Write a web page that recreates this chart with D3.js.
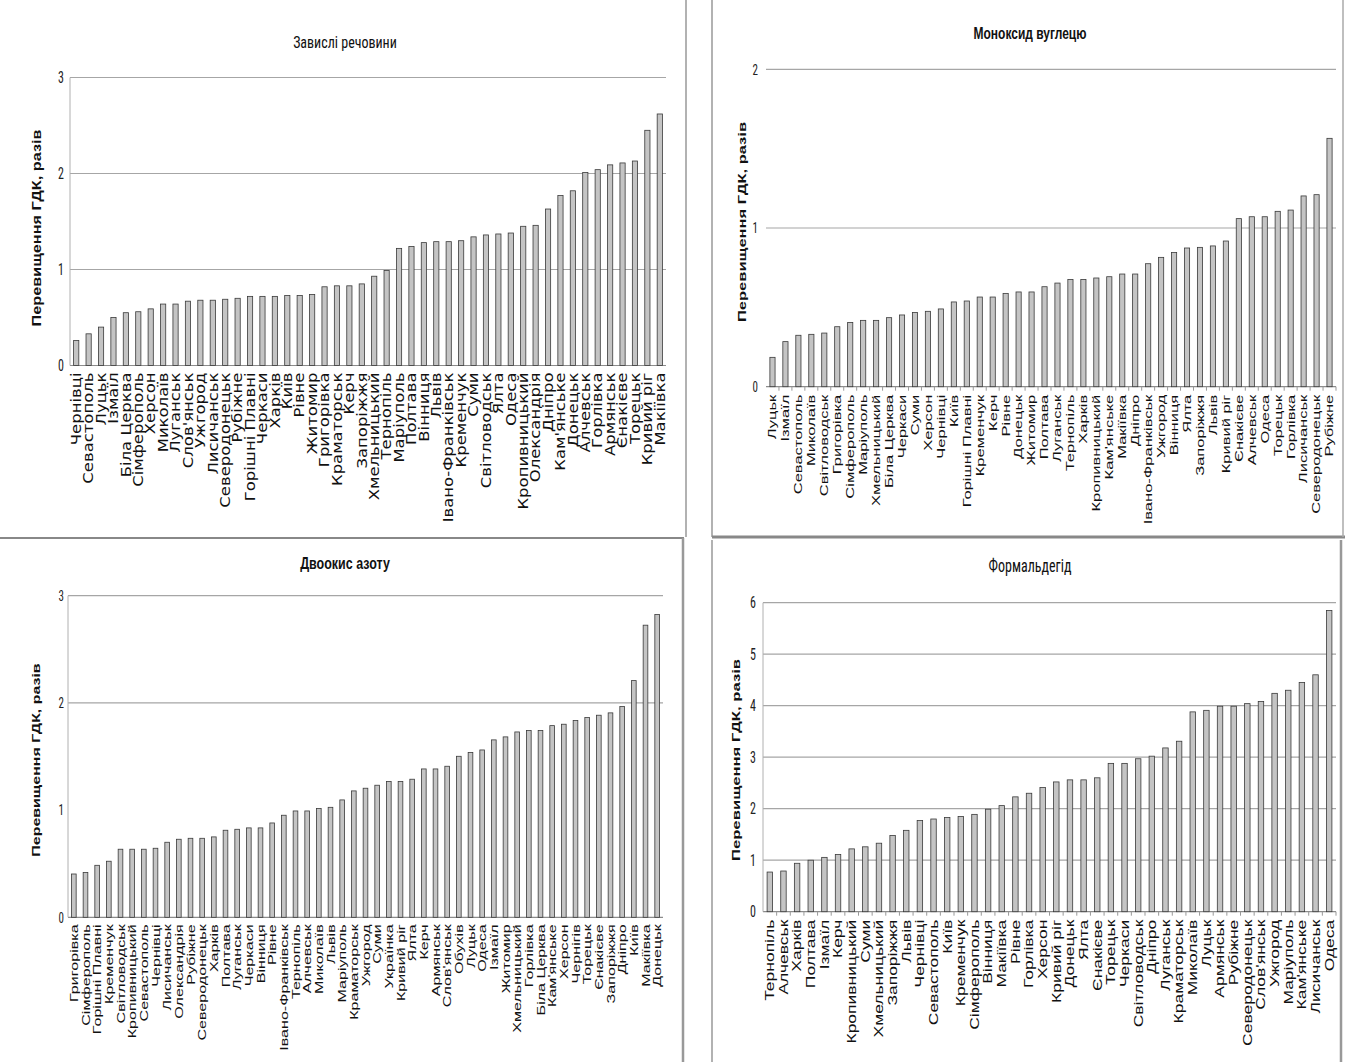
<!DOCTYPE html>
<html><head><meta charset="utf-8">
<script src="https://cdn.jsdelivr.net/npm/d3@7"></script>
<style>body{margin:0;background:#fff}svg{display:block}</style>
</head><body>
<svg id="c" width="1351" height="1062"></svg>
<script>
// ---- Data ----
const susCities = ["Чернівці","Севастополь","Луцьк","Ізмаїл","Біла Церква","Сімферополь","Херсон","Миколаїв","Луганськ","Слов'янськ","Ужгород","Лисичанськ","Северодонецьк","Рубіжне","Горішні Плавні","Черкаси","Харків","Київ","Рівне","Житомир","Григорівка","Краматорськ","Керч","Запоріжжя","Хмельницький","Тернопіль","Маріуполь","Полтава","Вінниця","Львів","Івано-Франківськ","Кременчук","Суми","Світловодськ","Ялта","Одеса","Кропивницький","Олександрія","Дніпро","Кам'янське","Донецьк","Алчевськ","Горлівка","Армянськ","Єнакієве","Торецьк","Кривий ріг","Макіївка"];
const susValues = [0.26,0.33,0.40,0.50,0.55,0.56,0.59,0.64,0.64,0.67,0.68,0.68,0.69,0.70,0.72,0.72,0.72,0.73,0.73,0.74,0.82,0.83,0.83,0.85,0.93,0.99,1.22,1.24,1.28,1.29,1.29,1.30,1.34,1.36,1.37,1.38,1.45,1.46,1.63,1.77,1.82,2.01,2.04,2.09,2.11,2.13,2.45,2.62];

const coCities = ["Луцьк","Ізмаїл","Севастополь","Миколаїв","Світловодськ","Григорівка","Сімферополь","Маріуполь","Хмельницький","Біла Церква","Черкаси","Суми","Херсон","Чернівці","Київ","Горішні Плавні","Кременчук","Керч","Рівне","Донецьк","Житомир","Полтава","Луганськ","Тернопіль","Харків","Кропивницький","Кам'янське","Макіївка","Дніпро","Івано-Франківськ","Ужгород","Вінниця","Ялта","Запоріжжя","Львів","Кривий ріг","Єнакієве","Алчевськ","Одеса","Торецьк","Горлівка","Лисичанськ","Северодонецьк","Рубіжне"];
const coValues = [0.185,0.284,0.324,0.33,0.338,0.378,0.405,0.418,0.418,0.435,0.452,0.468,0.475,0.49,0.534,0.54,0.565,0.565,0.588,0.597,0.597,0.63,0.653,0.676,0.676,0.685,0.693,0.71,0.71,0.775,0.815,0.845,0.874,0.878,0.887,0.918,1.059,1.071,1.071,1.105,1.113,1.202,1.21,1.565];

const no2Cities = ["Григорівка","Сімферополь","Горішні Плавні","Кременчук","Світловодськ","Кропивницький","Севастополь","Чернівці","Лисичанськ","Олександрія","Рубіжне","Северодонецьк","Харків","Полтава","Луганськ","Черкаси","Вінниця","Рівне","Івано-Франківськ","Тернопіль","Алчевськ","Миколаїв","Львів","Маріуполь","Краматорськ","Ужгород","Суми","Українка","Кривий ріг","Ялта","Керч","Армянськ","Слов'янськ","Обухів","Луцьк","Одеса","Ізмаїл","Житомир","Хмельницький","Горлівка","Біла Церква","Кам'янське","Херсон","Чернігів","Торецьк","Єнакієве","Запоріжжя","Дніпро","Київ","Макіївка","Донецьк"];
const no2Values = [0.404,0.417,0.485,0.523,0.635,0.635,0.635,0.644,0.70,0.728,0.737,0.737,0.75,0.812,0.821,0.834,0.834,0.88,0.952,0.992,0.992,1.014,1.026,1.095,1.179,1.204,1.232,1.266,1.266,1.288,1.384,1.384,1.409,1.502,1.537,1.561,1.655,1.683,1.729,1.742,1.742,1.788,1.801,1.835,1.863,1.885,1.907,1.966,2.208,2.725,2.824];

const hchoCities = ["Тернопіль","Алчевськ","Харків","Полтава","Ізмаїл","Керч","Кропивницький","Суми","Хмельницький","Запоріжжя","Львів","Чернівці","Севастополь","Київ","Кременчук","Сімферополь","Вінниця","Макіївка","Рівне","Горлівка","Херсон","Кривий ріг","Донецьк","Ялта","Єнакієве","Торецьк","Черкаси","Світловодськ","Дніпро","Луганськ","Краматорськ","Миколаїв","Луцьк","Армянськ","Рубіжне","Северодонецьк","Слов'янськ","Ужгород","Маріуполь","Кам'янське","Лисичанськ","Одеса"];
const hchoValues = [0.77,0.79,0.94,1.00,1.055,1.11,1.22,1.26,1.33,1.48,1.58,1.77,1.80,1.83,1.85,1.89,1.99,2.06,2.23,2.30,2.41,2.52,2.56,2.56,2.60,2.88,2.88,2.97,3.02,3.18,3.31,3.88,3.91,3.99,3.99,4.04,4.08,4.24,4.30,4.45,4.60,5.85];

const titles = ["Завислі речовини","Моноксид вуглецю","Двоокис азоту","Формальдегід"];
const yTitle = "Перевищення ГДК, разів";
const ticksSus = [0,1,2,3], ticksCo = [0,1,2], ticksNo2 = [0,1,2,3], ticksHcho = [0,1,2,3,4,5,6];

// ---- Layout ----
const svg = d3.select("#c");
const narrow = "'Liberation Sans Narrow','Roboto Condensed',Roboto,sans-serif";
const arial = "'Liberation Sans',Arial,sans-serif";

const panels = [
 {cats:susCities, vals:susValues, title:titles[0], ticks:ticksSus, grid:[1,2,3], max:3,
  x0:70, x1:666, yb:365.5, yt:77.5, tickX:64, tickFont:narrow, tickSize:12,
  titleX:345, titleY:48, titleFont:narrow, titleSize:14, titleWeight:"normal", titleStretch:1.2,
  ylx:37, yly:228, ylSize:12.5, ylStretch:1.3,
  labFont:"'DejaVu Sans',sans-serif", labSize:13.5, labStretch:1.22, labOff:7, axisLine:true, xticks:false, bw:0.42},
 {cats:coCities, vals:coValues, title:titles[1], ticks:ticksCo, grid:[1,2], max:2,
  x0:766, x1:1336, yb:386.7, yt:69.3, tickX:758, tickFont:narrow, tickSize:11,
  titleX:1030, titleY:39, titleFont:arial, titleSize:12, titleWeight:"bold", titleStretch:1.35,
  ylx:742, yly:222, ylSize:11, ylStretch:1.5,
  labFont:arial, labSize:11, labStretch:1.5, labOff:8, axisLine:false, xticks:true, bw:0.4},
 {cats:no2Cities, vals:no2Values, title:titles[2], ticks:ticksNo2, grid:[2,3], max:3,
  x0:68, x1:663, yb:917.3, yt:595.7, tickX:64, tickFont:narrow, tickSize:11,
  titleX:345, titleY:569, titleFont:arial, titleSize:12.5, titleWeight:"bold", titleStretch:1.35,
  ylx:36, yly:760, ylSize:11, ylStretch:1.45,
  labFont:arial, labSize:11.5, labStretch:1.4, labOff:7, axisLine:true, xticks:false, bw:0.4},
 {cats:hchoCities, vals:hchoValues, title:titles[3], ticks:ticksHcho, grid:[1,2,3,4,5,6], max:6,
  x0:763, x1:1336, yb:911.7, yt:602.7, tickX:756, tickFont:narrow, tickSize:12,
  titleX:1030, titleY:572, titleFont:narrow, titleSize:14, titleWeight:"normal", titleStretch:1.25,
  ylx:736, yly:760, ylSize:11.5, ylStretch:1.45,
  labFont:arial, labSize:12.5, labStretch:1.4, labOff:8, axisLine:true, xticks:true, bw:0.4}
];

// panel borders
const borders = [
 [686,0,686,537,"#999",1.5],
 [0,538,684,538,"#888",2],
 [683,538,683,1062,"#999",2.5],
 [712,0,712,537,"#999",1.5],
 [712,537,1345,537,"#888",3],
 [1343,0,1343,537,"#aaa",1.5],
 [712,540,712,1062,"#999",1.5],
 [1341,540,1341,1062,"#999",2.5]
];
svg.selectAll("line.border").data(borders).join("line").attr("class","border")
 .attr("x1",d=>d[0]).attr("y1",d=>d[1]).attr("x2",d=>d[2]).attr("y2",d=>d[3])
 .attr("stroke",d=>d[4]).attr("stroke-width",d=>d[5]);

panels.forEach(p=>{
  const g = svg.append("g");
  const x = d3.scaleBand().domain(p.cats).range([p.x0,p.x1]).paddingInner(0).paddingOuter(0);
  const y = d3.scaleLinear().domain([0,p.max]).range([p.yb,p.yt]);

  // gridlines
  g.selectAll("line.grid").data(p.grid).join("line")
   .attr("x1",p.x0).attr("x2",p.x1).attr("y1",d=>y(d)).attr("y2",d=>y(d))
   .attr("stroke","#a6a6a6").attr("stroke-width",1.2);
  // baseline
  g.append("line").attr("x1",p.x0).attr("x2",p.x1).attr("y1",y(0)).attr("y2",y(0))
   .attr("stroke","#8c8c8c").attr("stroke-width",1.2);
  if(p.axisLine){
    g.append("line").attr("x1",p.x0).attr("x2",p.x0).attr("y1",y(0)).attr("y2",y(p.max))
     .attr("stroke","#b0b0b0").attr("stroke-width",1);
  }
  if(p.xticks){
    const ax = d3.axisBottom(x).tickSize(4).tickFormat("");
    const ag = g.append("g").attr("transform",`translate(0,${y(0)})`).call(ax);
    ag.select(".domain").remove();
    ag.selectAll(".tick line").attr("stroke","#999").attr("transform",`translate(${x.bandwidth()/2},0)`);
  }

  // bars
  const bw = x.bandwidth()*p.bw;
  g.selectAll("rect.bar").data(p.vals).join("rect")
   .attr("x",(d,i)=>x(p.cats[i])+x.bandwidth()/2-bw/2)
   .attr("width",bw)
   .attr("y",d=>y(d)).attr("height",d=>y(0)-y(d))
   .attr("fill","#c4c4c4").attr("stroke","#3a3a3a").attr("stroke-width",0.8);

  // y tick labels (vertically stretched like the reference)
  g.selectAll("text.tick").data(p.ticks).join("text")
   .attr("transform",d=>`translate(${p.tickX},${y(d)}) scale(1,1.35)`)
   .attr("dy","0.35em").attr("text-anchor","end")
   .attr("font-family",p.tickFont).attr("font-size",p.tickSize).attr("fill","#222")
   .text(d=>d);

  // x labels (rotated, stretched along length)
  g.selectAll("text.lab").data(p.cats).join("text")
   .attr("transform",d=>`translate(${x(d)+x.bandwidth()/2},${y(0)+p.labOff}) rotate(-90) scale(${p.labStretch},1)`)
   .attr("text-anchor","end").attr("dy","0.35em")
   .attr("font-family",p.labFont).attr("font-size",p.labSize).attr("fill","#111")
   .text(d=>d);

  // title
  g.append("text").attr("transform",`translate(${p.titleX},${p.titleY}) scale(1,${p.titleStretch})`)
   .attr("text-anchor","middle")
   .attr("font-family",p.titleFont).attr("font-size",p.titleSize).attr("font-weight",p.titleWeight)
   .attr("fill","#111").text(p.title);

  // y title
  g.append("text").attr("transform",`translate(${p.ylx},${p.yly}) rotate(-90) scale(${p.ylStretch},1)`)
   .attr("text-anchor","middle").attr("dy","0.35em")
   .attr("font-family",arial).attr("font-weight","bold")
   .attr("font-size",p.ylSize).attr("fill","#111").text(yTitle);
});
</script>
</body></html>
